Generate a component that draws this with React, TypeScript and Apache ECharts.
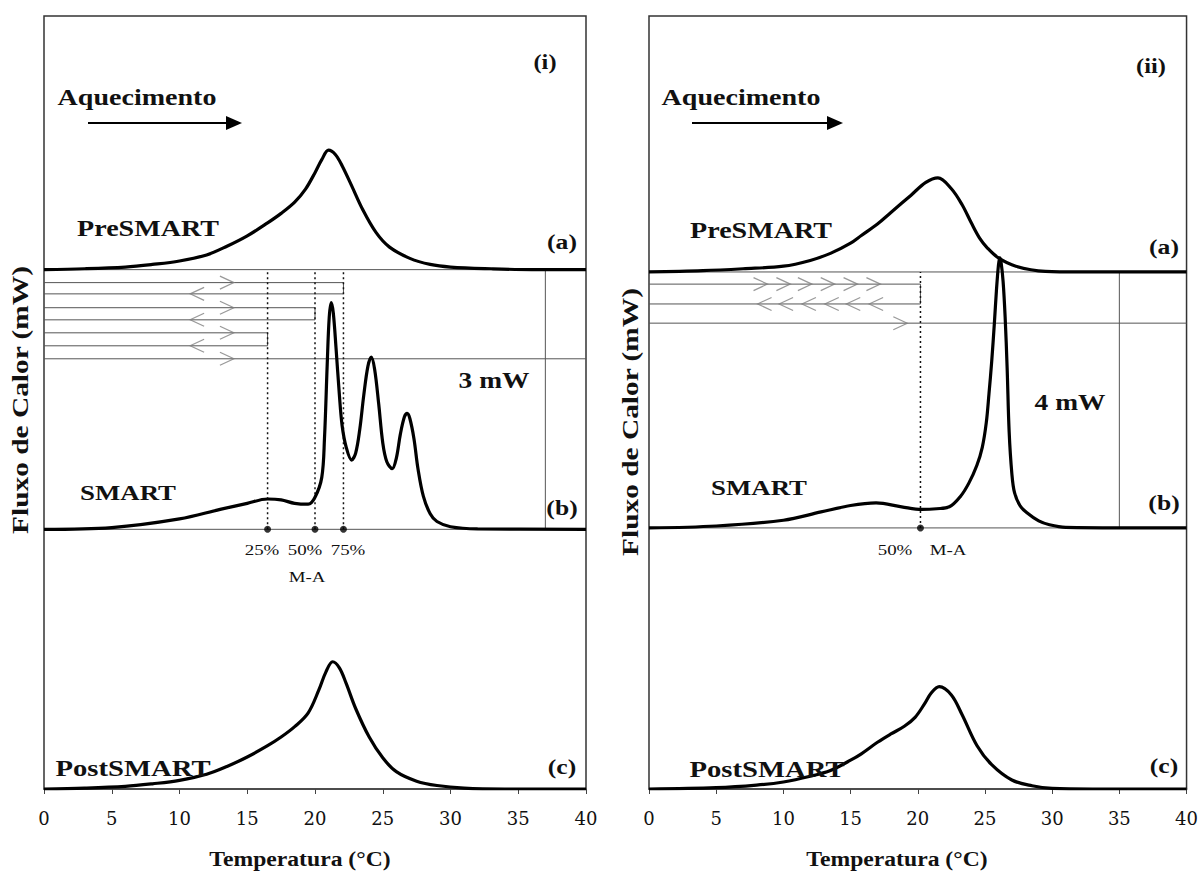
import React, { useEffect, useRef } from "react";
import * as echarts from "echarts";

// ---------- shared ----------
const xTickLabels = ["0", "5", "10", "15", "20", "25", "30", "35", "40"];
const xMin = 0;
const xMax = 40;
const xStep = 5;

// ---------- panel (i) ----------
const iPreT = [0, 3, 6, 8, 10, 12, 13.5, 15, 16.5, 17.5, 18.5, 19.3, 20, 20.5, 21, 21.5, 22, 22.7, 23.5, 24.5, 25.5, 27, 28.5, 30, 33, 36, 40];
const iPreH = [0, 0.01, 0.03, 0.06, 0.1, 0.17, 0.27, 0.39, 0.54, 0.65, 0.78, 0.93, 1.12, 1.27, 1.38, 1.33, 1.2, 0.97, 0.7, 0.43, 0.26, 0.13, 0.06, 0.03, 0.01, 0, 0];
const iSmartT = [0, 5, 10, 13, 15, 16.5, 17.5, 18.5, 19.5, 20, 20.5, 20.7, 20.9, 21.05, 21.2, 21.35, 21.55, 21.8, 22, 22.3, 22.7, 23, 23.3, 23.6, 23.9, 24.15, 24.4, 24.7, 25, 25.3, 25.7, 26, 26.3, 26.6, 26.8, 27, 27.3, 27.6, 28, 28.5, 29, 30, 32, 40];
const iSmartH = [0, 0.02, 0.12, 0.23, 0.3, 0.35, 0.34, 0.3, 0.29, 0.37, 0.6, 1.05, 1.9, 2.45, 2.62, 2.5, 2.1, 1.55, 1.2, 0.95, 0.8, 0.88, 1.15, 1.55, 1.88, 1.99, 1.85, 1.45, 1.0, 0.78, 0.7, 0.82, 1.1, 1.3, 1.34, 1.28, 1.05, 0.7, 0.38, 0.18, 0.09, 0.03, 0.005, 0];
const iPostT = [0, 3, 6, 8, 10, 12, 13.5, 15, 16.5, 17.5, 18.5, 19.5, 20.3, 20.8, 21.3, 21.8, 22.3, 23, 24, 25, 26, 27.5, 29, 31, 34, 40];
const iPostH = [0, 0.01, 0.03, 0.06, 0.1, 0.17, 0.26, 0.37, 0.5, 0.6, 0.72, 0.88, 1.15, 1.35, 1.47, 1.4, 1.22, 0.93, 0.6, 0.36, 0.2, 0.09, 0.04, 0.01, 0, 0];
const iBase = [6, 3, 0]; // (a) (b) (c) baselines, mW
const iYMax = 8.93;
const iHeatY = [5.85, 5.56, 5.27];
const iCoolY = [5.72, 5.42, 5.12];
const iTurnT = [22.1, 20.0, 16.5]; // 75%, 50%, 25% M-A
const iLastHeatY = 4.97;
const iHeatChevT = 13.5;
const iCoolChevT = 11.3;
const iScaleBarT = 37;

// ---------- panel (ii) ----------
const iiPreT = [0, 4, 7, 10, 12, 13.5, 15, 15.8, 17, 18, 19.5, 20.6, 21.5, 22.5, 23.3, 24, 24.6, 25.2, 26, 27.3, 29.5, 32, 40];
const iiPreH = [0, 0.02, 0.05, 0.09, 0.18, 0.29, 0.45, 0.57, 0.75, 0.93, 1.2, 1.4, 1.47, 1.3, 1.05, 0.76, 0.53, 0.37, 0.22, 0.09, 0.01, 0, 0];
const iiSmartT = [0, 5, 10, 12.8, 15, 16.9, 18.8, 20.3, 21.4, 22.35, 23.2, 23.8, 24.4, 24.8, 25.1, 25.3, 25.5, 25.7, 25.85, 26, 26.1, 26.2, 26.35, 26.5, 26.65, 26.8, 27, 27.2, 27.6, 28.1, 29, 29.8, 31, 40];
const iiSmartH = [0, 0.03, 0.12, 0.25, 0.35, 0.39, 0.33, 0.29, 0.3, 0.33, 0.5, 0.7, 0.98, 1.26, 1.65, 2.1, 2.6, 3.2, 3.7, 4.1, 4.22, 4.15, 3.85, 3.3, 2.5, 1.5, 0.85, 0.55, 0.35, 0.24, 0.11, 0.05, 0.01, 0];
const iiPostT = [0, 5, 8, 10, 12, 13.5, 15, 15.8, 17, 18, 19, 19.8, 20.5, 21, 21.6, 22.5, 23.3, 24.4, 25.5, 27, 28.5, 30, 33, 40];
const iiPostH = [0, 0.02, 0.06, 0.11, 0.2, 0.29, 0.45, 0.55, 0.73, 0.86, 0.98, 1.12, 1.33, 1.5, 1.6, 1.47, 1.16, 0.68, 0.38, 0.14, 0.05, 0.01, 0, 0];
const iiBase = [8.08, 4.08, 0];
const iiYMax = 12.08;
const iiHeatY = [7.89];
const iiCoolY = [7.58];
const iiTurnT = [20.2]; // 50% M-A
const iiLastHeatY = 7.28;
const iiHeatChevT = [8.3, 10.0, 11.6, 13.3, 15.0, 16.7];
const iiCoolChevT = [8.6, 10.2, 11.9, 13.6, 15.2, 16.9];
const iiLastChevT = [18.7];
const iiScaleBarT = 35;

const SERIF = "Liberation Serif";
const SX = 1.22;

function curve(t: number[], h: number[], base: number) {
  return t.map((x, i) => [x, base + h[i]]);
}

function thin(data: number[][], g: number) {
  return {
    type: "line",
    xAxisIndex: g,
    yAxisIndex: g,
    data,
    symbol: "none",
    silent: true,
    lineStyle: { color: "#555", width: 1 },
    z: 2,
  };
}

function thick(data: number[][], g: number) {
  return {
    type: "line",
    xAxisIndex: g,
    yAxisIndex: g,
    data,
    symbol: "none",
    smooth: 0.35,
    lineStyle: { color: "#000", width: 3.2 },
    z: 5,
  };
}

function chevrons(pts: number[][], g: number, dir: ">" | "<") {
  return {
    type: "scatter",
    xAxisIndex: g,
    yAxisIndex: g,
    data: pts,
    symbol: dir === ">" ? "path://M0,0L10,5L0,10" : "path://M10,0L0,5L10,10",
    symbolSize: [14, 13],
    symbolKeepAspect: false,
    itemStyle: { color: "rgba(0,0,0,0)", borderColor: "#808080", borderWidth: 1.2 },
    z: 3,
  };
}

function panelSeries(
  g: number,
  pre: number[][],
  smart: number[][],
  post: number[][],
  base: number[],
  heatY: number[],
  coolY: number[],
  turnT: number[],
  lastHeatY: number,
  scaleBarT: number,
  heatChev: number[][],
  coolChev: number[][]
) {
  const s: any[] = [];
  s.push(thin([[xMin, base[0]], [xMax, base[0]]], g));
  s.push(thin([[xMin, base[1]], [xMax, base[1]]], g));
  s.push(thin([[xMin, lastHeatY], [xMax, lastHeatY]], g));
  heatY.forEach((hy, i) => {
    s.push(thin([[xMin, hy], [turnT[i], hy], [turnT[i], coolY[i]], [xMin, coolY[i]]], g));
  });
  turnT.forEach((t) => {
    s.push({
      ...thin([[t, base[1]], [t, base[0]]], g),
      lineStyle: { color: "#111", width: 1.5, type: [2, 3] },
    });
  });
  s.push(thin([[scaleBarT, base[1]], [scaleBarT, base[0]]], g));
  s.push({
    type: "scatter",
    xAxisIndex: g,
    yAxisIndex: g,
    data: turnT.map((t) => [t, base[1]]),
    symbol: "circle",
    symbolSize: 7,
    itemStyle: { color: "#000" },
    z: 6,
  });
  s.push(chevrons(heatChev, g, ">"));
  s.push(chevrons(coolChev, g, "<"));
  s.push(thick(pre, g));
  s.push(thick(smart, g));
  s.push(thick(post, g));
  return s;
}

function txt(x: number, y: number, text: string, size: number, bold = true, extra: any = {}) {
  return {
    type: "text",
    x,
    y,
    scaleX: extra.scaleX ?? SX,
    silent: true,
    z: 10,
    rotation: extra.rotation ?? 0,
    style: {
      text,
      fontSize: size,
      fontWeight: bold ? "bold" : "normal",
      fontFamily: SERIF,
      fill: "#111",
      align: "center",
      verticalAlign: "middle",
    },
  };
}

function arrow(x1: number, x2: number, y: number) {
  return [
    { type: "line", shape: { x1, y1: y, x2: x2 - 14, y2: y }, style: { stroke: "#000", lineWidth: 2 }, silent: true },
    { type: "polygon", shape: { points: [[x2 - 16, y - 7], [x2, y], [x2 - 16, y + 7]] }, style: { fill: "#000" }, silent: true },
  ];
}

export default function App() {
  const ref = useRef<HTMLDivElement>(null);
  useEffect(() => {
    document.body.style.margin = "0";
    if (!ref.current) return;
    const chart = echarts.init(ref.current, undefined, { renderer: "svg" });

    const xAxisBase = (g: number) => ({
      gridIndex: g,
      type: "value",
      min: xMin,
      max: xMax,
      interval: xStep,
      axisLine: { show: true, lineStyle: { color: "#444", width: 1.5 } },
      axisTick: { show: true, length: 5, lineStyle: { color: "#444" } },
      axisLabel: {
        fontFamily: "DejaVu Serif",
        fontSize: 18,
        color: "#111",
        margin: 20,
        formatter: (v: number) => xTickLabels[Math.round(v / xStep)] ?? "",
      },
      splitLine: { show: false },
    });
    const yAxisBase = (g: number, max: number) => ({
      gridIndex: g,
      type: "value",
      min: 0,
      max,
      axisLine: { show: false },
      axisTick: { show: false },
      axisLabel: { show: false },
      splitLine: { show: false },
    });

    const series = [
      ...panelSeries(
        0,
        curve(iPreT, iPreH, iBase[0]),
        curve(iSmartT, iSmartH, iBase[1]),
        curve(iPostT, iPostH, iBase[2]),
        iBase,
        iHeatY,
        iCoolY,
        iTurnT,
        iLastHeatY,
        iScaleBarT,
        [...iHeatY, iLastHeatY].map((y) => [iHeatChevT, y]),
        iCoolY.map((y) => [iCoolChevT, y])
      ),
      ...panelSeries(
        1,
        curve(iiPreT, iiPreH, iiBase[0]),
        curve(iiSmartT, iiSmartH, iiBase[1]),
        curve(iiPostT, iiPostH, iiBase[2]),
        iiBase,
        iiHeatY,
        iiCoolY,
        iiTurnT,
        iiLastHeatY,
        iiScaleBarT,
        [...iiHeatChevT.map((t) => [t, iiHeatY[0]]), ...iiLastChevT.map((t) => [t, iiLastHeatY])],
        iiCoolChevT.map((t) => [t, iiCoolY[0]])
      ),
    ];

    const rot = { rotation: Math.PI / 2, scaleX: 1.25 };
    const title = { scaleX: 1.1 };
    const graphic: any[] = [
      // panel (i)
      txt(545, 62, "(i)", 20),
      txt(137, 97, "Aquecimento", 23),
      ...arrow(88, 242, 123),
      txt(148, 228, "PreSMART", 23),
      txt(562, 242, "(a)", 21),
      txt(128, 492, "SMART", 22),
      txt(562, 508, "(b)", 21),
      txt(133, 768, "PostSMART", 23.5),
      txt(562, 767, "(c)", 21),
      txt(494, 380, "3 mW", 22.5),
      txt(262, 550, "25%", 15.5, false),
      txt(305, 550, "50%", 15.5, false),
      txt(348, 550, "75%", 15.5, false),
      txt(307, 577, "M-A", 15.5, false),
      txt(20, 400, "Fluxo de Calor (mW)", 23.5, true, rot),
      txt(300, 859, "Temperatura (°C)", 21.5, true, title),
      // panel (ii)
      txt(1151, 66, "(ii)", 20),
      txt(741, 97, "Aquecimento", 23),
      ...arrow(692, 843, 123),
      txt(761, 230, "PreSMART", 23),
      txt(1164, 247, "(a)", 21),
      txt(759, 487, "SMART", 22),
      txt(1164, 503, "(b)", 21),
      txt(767, 769, "PostSMART", 23.5),
      txt(1164, 766, "(c)", 21),
      txt(1070, 402, "4 mW", 22.5),
      txt(895, 550, "50%", 15.5, false),
      txt(948, 550, "M-A", 15.5, false),
      txt(630, 422, "Fluxo de Calor (mW)", 23.5, true, rot),
      txt(897, 859, "Temperatura (°C)", 21.5, true, title),
    ];

    chart.setOption({
      animation: false,
      backgroundColor: "#fff",
      grid: [
        { left: 44, top: 16, width: 542, height: 773, show: true, borderColor: "#333", borderWidth: 1.5, backgroundColor: "rgba(0,0,0,0)" },
        { left: 649, top: 16, width: 539, height: 773, show: true, borderColor: "#333", borderWidth: 1.5, backgroundColor: "rgba(0,0,0,0)" },
      ],
      xAxis: [xAxisBase(0), xAxisBase(1)],
      yAxis: [yAxisBase(0, iYMax), yAxisBase(1, iiYMax)],
      series,
      graphic,
    });
    return () => chart.dispose();
  }, []);
  return <div ref={ref} style={{ width: 1201, height: 875 }} />;
}
